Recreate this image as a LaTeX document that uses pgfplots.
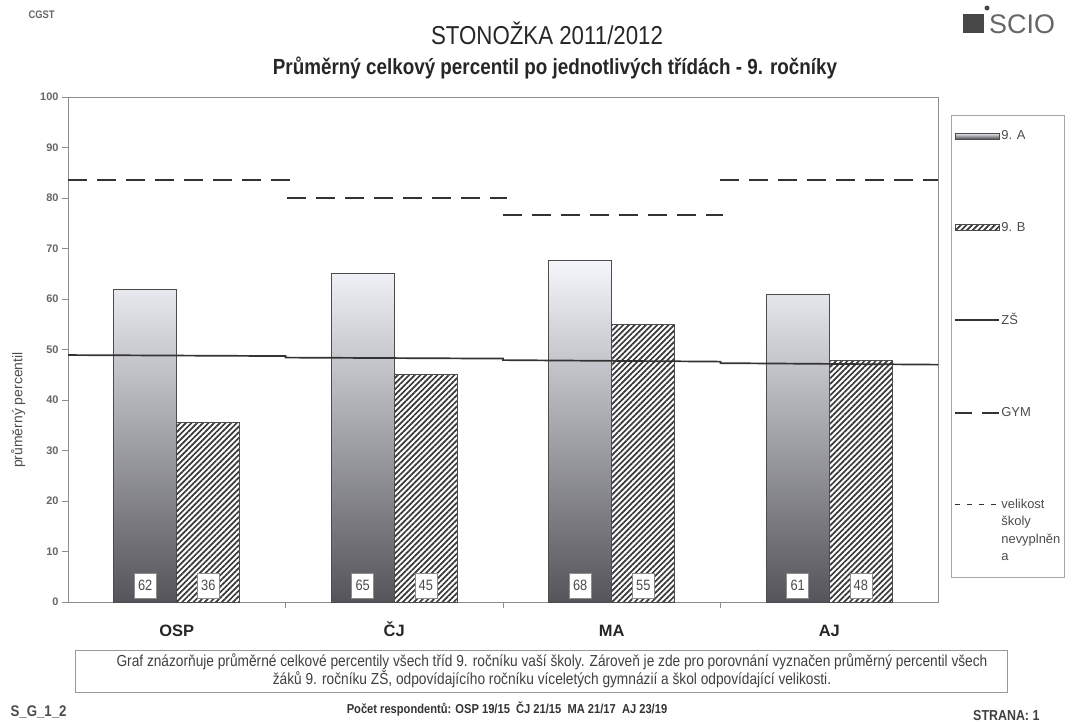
\documentclass[border=0pt]{standalone}
\usepackage{fontspec}
\setmainfont{Liberation Sans}
\newfontfamily\narrow[FakeStretch=0.86]{Liberation Sans}
\usepackage{pgfplots}
\pgfplotsset{compat=1.18}
\usetikzlibrary{patterns.meta}

\definecolor{frame}{gray}{0.55}
\definecolor{barA1}{RGB}{244,246,251}
\definecolor{barA2}{RGB}{196,199,210}
\definecolor{barA3}{RGB}{84,84,90}
\definecolor{hatch}{gray}{0.22}

\pgfplotsset{
  barleg/.style={legend image code/.code={\draw[##1, line width=0.6bp] (0bp,-3bp) rectangle (44bp,3bp);}},
  lineleg/.style={legend image code/.code={\draw[##1] (0bp,0bp) -- (44bp,0bp);}},
  topleg/.style={legend image code/.code={\draw[##1] (0bp,26bp) -- (44bp,26bp);}},
}

\begin{document}
\begin{tikzpicture}
\path[use as bounding box] (0,0) rectangle (1072bp,-722bp);

% header
\node[anchor=west, font=\narrow\bfseries\fontsize{11}{12}\selectfont, text=black!60] at (25bp,-15bp) {CGST};
\node[font=\narrow\fontsize{26}{28}\selectfont, text=black!85] at (547bp,-33bp) {STONOŽKA 2011/2012};
\node[font=\narrow\bfseries\fontsize{22}{24}\selectfont, text=black!85] at (555bp,-68bp) {Průměrný celkový percentil po jednotlivých třídách - 9. ročníky};
\fill[black!72] (963bp,-14bp) rectangle (984bp,-33bp);
\fill[black!72] (987bp,-8bp) circle (2.5bp);
\node[anchor=west, inner sep=0pt, font=\fontsize{27}{29}\selectfont, text=black!60] at (989bp,-24bp) {SCIO};

\begin{axis}[
  at={(68bp,-602bp)}, anchor=south west,
  width=870bp, height=505bp, scale only axis,
  xmin=-0.5, xmax=3.5, ymin=0, ymax=100,
  xtick={0,1,2,3}, xticklabels={OSP,ČJ,MA,AJ},
  minor xtick={0.5,1.5,2.5},
  major x tick style={draw=none},
  ytick={0,10,...,100},
  tick align=outside, tick pos=left,
  major tick length=6bp, minor tick length=6bp,
  tick style={frame, line width=0.8bp},
  axis line style={frame, line width=1bp},
  /pgf/number format/assume math mode=true,
  y tick label style={font=\bfseries\fontsize{11}{12}\selectfont, text=black!60},
  x tick label style={font=\bfseries\fontsize{16.5}{18}\selectfont, text=black!85,
    text height=12bp, text depth=0bp, yshift=-13bp},
  ylabel={průměrný percentil},
  ylabel style={at={(axis description cs:-0.045,0.38)}, anchor=south,
    font=\fontsize{14}{16}\selectfont, text=black!70},
  legend style={at={(1.0149,0.964)}, anchor=north west, draw=black!35, line width=0.8bp,
    fill=white, font=\fontsize{13}{17.5}\selectfont, text=black!70,
    row sep=79bp, inner xsep=3bp, inner ysep=14bp,
    nodes={align=left, inner sep=1bp}},
  legend cell align=left,
  unbounded coords=jump,
  clip=false,
]

% 9. A
\addplot[ybar, bar width=0.29, bar shift=-0.145,
  draw=black!70, line width=0.8bp,
  top color=barA1, middle color=barA2, bottom color=barA3, barleg]
  coordinates {(0,62) (1,65) (2,67.6) (3,61)};
\addlegendentry{9. A}

% 9. B
\addplot[ybar, bar width=0.29, bar shift=0.145,
  draw=black!70, line width=0.8bp, fill=white,
  pattern={Lines[angle=45, distance=4bp, line width=1.7bp]}, pattern color=hatch, barleg]
  coordinates {(0,35.6) (1,45) (2,55) (3,47.8)};
\addlegendentry{9. B}

% value labels
\addplot[only marks, mark=none, forget plot,
  point meta=explicit symbolic, nodes near coords, nodes near coords align=center,
  every node near coord/.style={anchor=center, fill=white, draw=black!45, line width=0.5bp,
    inner sep=1bp, minimum width=22bp, minimum height=25bp,
    font=\narrow\fontsize{15}{16}\selectfont, text=black!70}]
  coordinates {(-0.145,3.2) [62] (0.145,3.2) [36] (0.855,3.2) [65] (1.145,3.2) [45]
               (1.855,3.2) [68] (2.145,3.2) [55] (2.855,3.2) [61] (3.145,3.2) [48]};

% ZS
\addplot[black!80, line width=1.7bp, lineleg]
  coordinates {(-0.5,48.9) (0.5,48.7) (0.5,48.4) (1.5,48.2) (1.5,47.9) (2.5,47.6)
               (2.5,47.3) (3.5,47.0)};
\addlegendentry{ZŠ}

% GYM
\addplot[black!80, line width=2bp, dash pattern=on 19bp off 10bp,
  legend image code/.code={\draw[black!80, line width=2bp, dash pattern=on 17bp off 10bp] (0bp,0bp) -- (44bp,0bp);}]
  coordinates {(-0.5,83.6) (0.52,83.6) (0.52,nan) (0.507,80.0) (1.518,80.0) (1.518,nan)
               (1.5,76.6) (2.51,76.6) (2.51,nan) (2.498,83.6) (3.5,83.6)};
\addlegendentry{GYM}

\addlegendimage{black!80, line width=1.5bp, dash pattern=on 5bp off 7bp, topleg}
\addlegendentry{velikost\\školy\\nevyplněn\\a}
\end{axis}

% footnote box
\draw[black!40, line width=0.8bp] (75bp,-650bp) rectangle (1007bp,-692bp);
\node[align=center, font=\narrow\fontsize{16}{18}\selectfont, text=black!75] at (552bp,-671bp)
  {Graf znázorňuje průměrné celkové percentily všech tříd 9. ročníku vaší školy. Zároveň je zde pro porovnání vyznačen průměrný percentil všech\\
   žáků 9. ročníku ZŠ, odpovídajícího ročníku víceletých gymnázií a škol odpovídající velikosti.};

% footer
\node[anchor=west, font=\narrow\bfseries\fontsize{15.5}{17}\selectfont, text=black!70] at (7bp,-712bp) {S\_G\_1\_2};
\node[font=\narrow\bfseries\fontsize{13}{14}\selectfont, text=black!80] at (507bp,-709bp)
  {Počet respondentů: OSP 19/15 \ ČJ 21/15 \ MA 21/17 \ AJ 23/19};
\node[anchor=east, font=\narrow\bfseries\fontsize{14.5}{16}\selectfont, text=black!75] at (1043bp,-716bp) {STRANA: 1};
\end{tikzpicture}
\end{document}
